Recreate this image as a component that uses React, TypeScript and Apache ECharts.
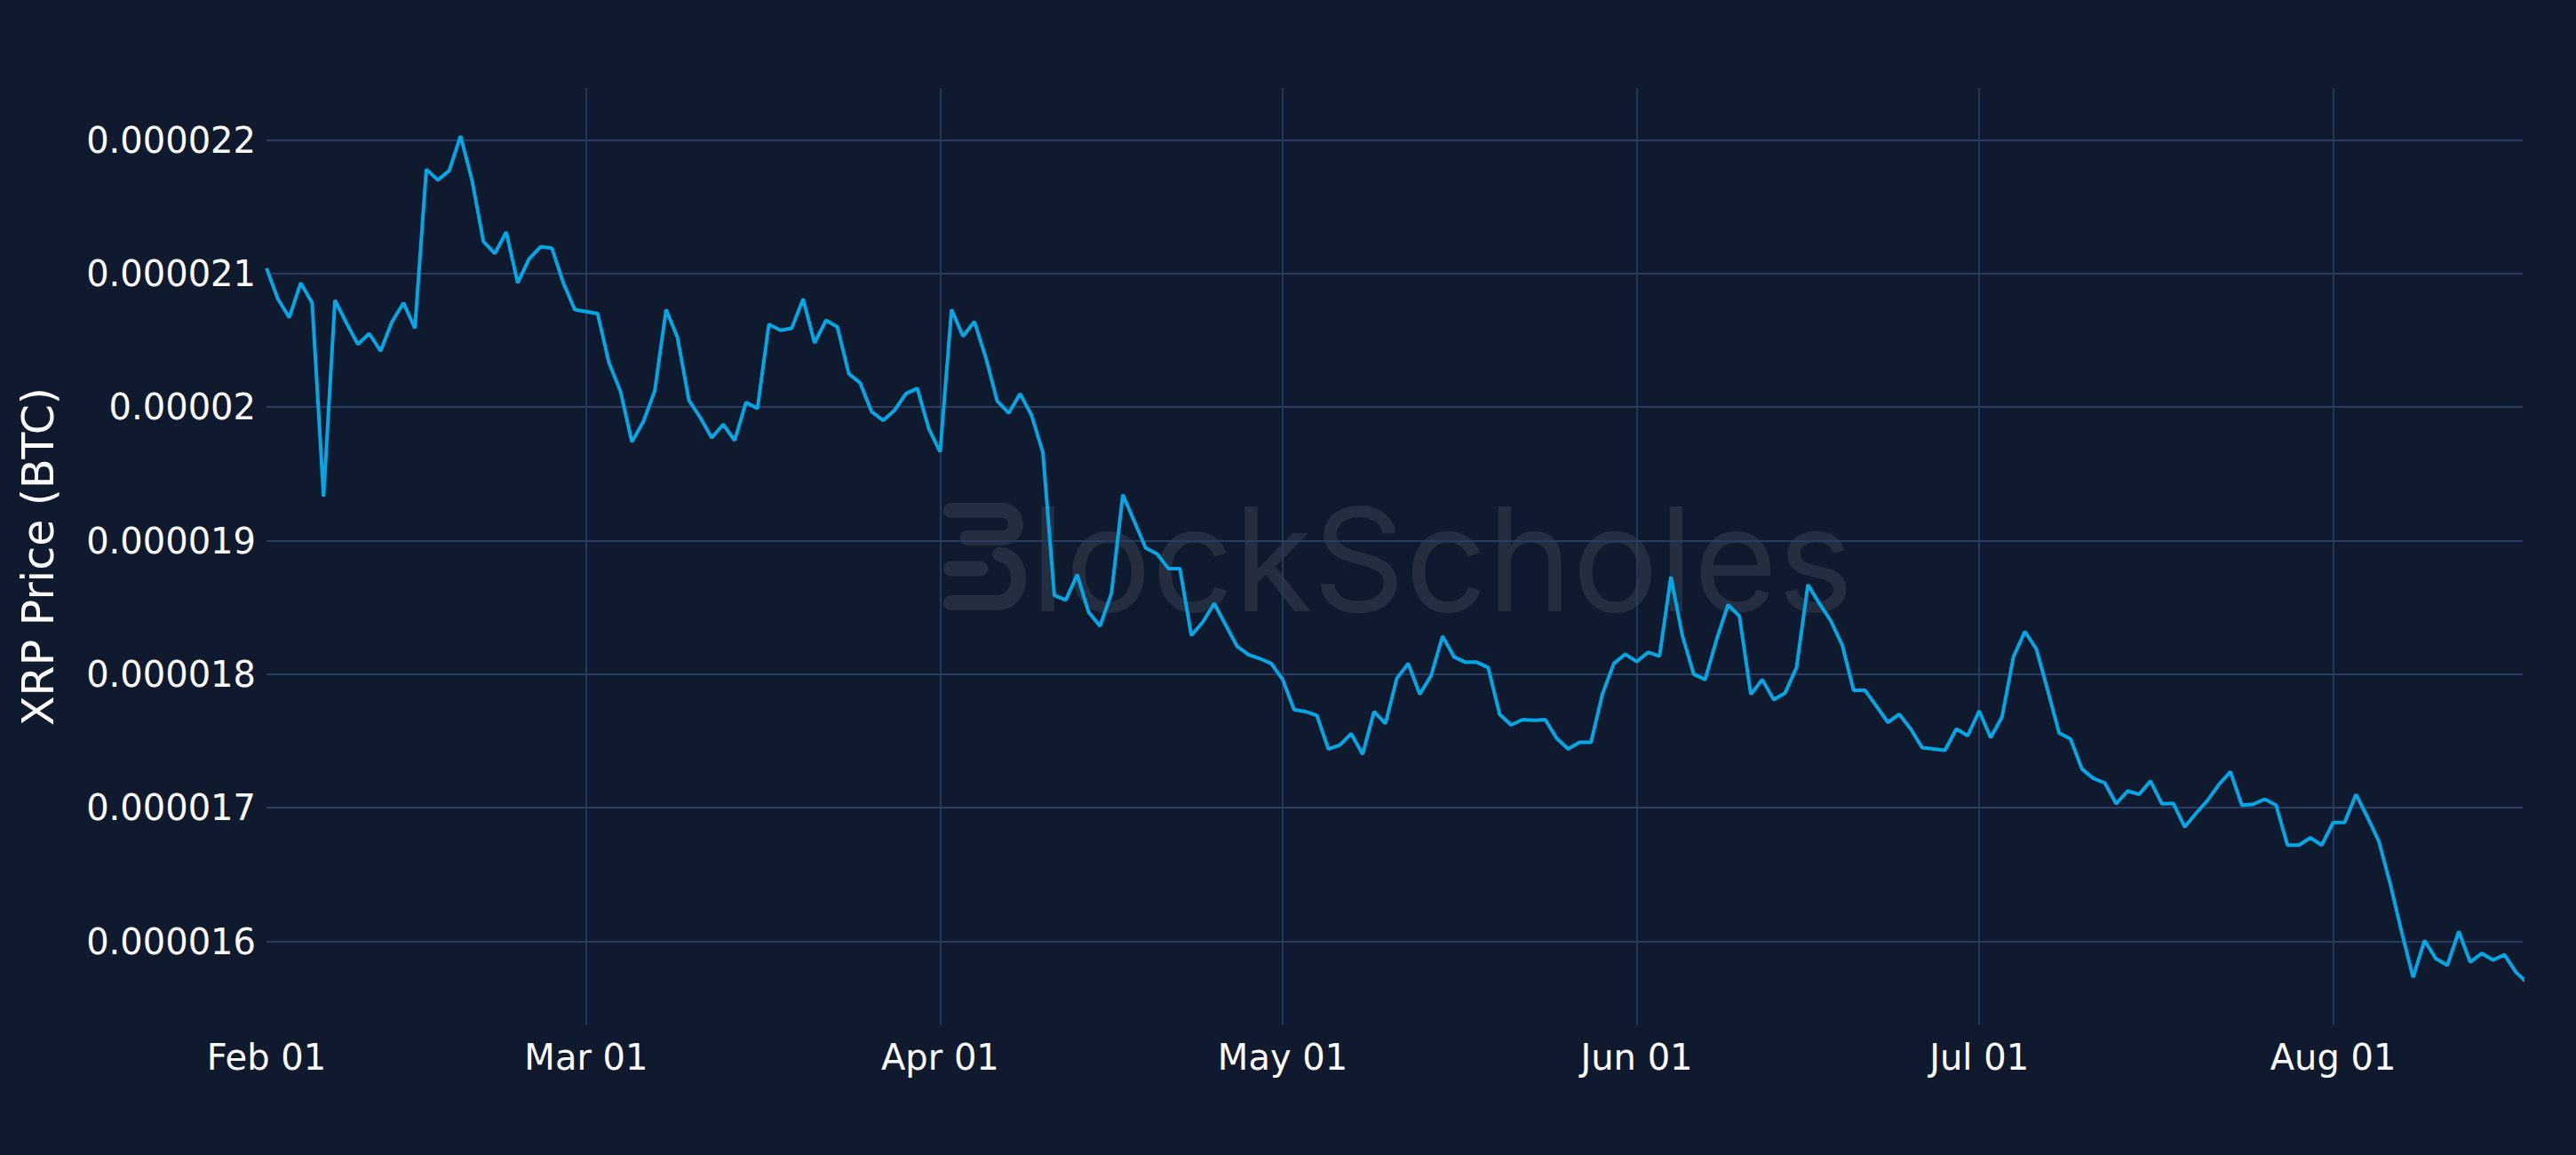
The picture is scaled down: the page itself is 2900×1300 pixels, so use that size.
import React, { useEffect, useRef } from "react";
import * as echarts from "echarts";

// XRP price in BTC, daily, in micro-BTC (1e-6 BTC), starting 2022-02-01
const START_DATE = "2022-02-01";
const UNIT = 1e-6;
const PRICE_E6 = [
  21.04, 20.81, 20.67, 20.93, 20.78, 19.33, 20.8, 20.63, 20.47, 20.55,
  20.42, 20.64, 20.78, 20.59, 21.78, 21.7, 21.77, 22.03, 21.7, 21.24,
  21.15, 21.31, 20.93, 21.11, 21.2, 21.19, 20.93, 20.73, 20.715, 20.7,
  20.33, 20.12, 19.74, 19.89, 20.12, 20.73, 20.52, 20.05, 19.92, 19.77,
  19.87, 19.75, 20.035, 19.99, 20.62, 20.575, 20.59, 20.81, 20.48, 20.65,
  20.6, 20.25, 20.18, 19.965, 19.9, 19.975, 20.1, 20.14, 19.84, 19.665,
  20.73, 20.53, 20.64, 20.37, 20.045, 19.955, 20.1, 19.94, 19.66, 18.59,
  18.555, 18.745, 18.465, 18.36, 18.605, 19.345, 19.145, 18.945, 18.9, 18.79,
  18.79, 18.29, 18.39, 18.53, 18.37, 18.21, 18.147, 18.117, 18.08, 17.96,
  17.735, 17.72, 17.69, 17.44, 17.47, 17.555, 17.4, 17.72, 17.63, 17.97,
  18.08, 17.85, 17.99, 18.285, 18.13, 18.09, 18.09, 18.05, 17.7, 17.62,
  17.66, 17.655, 17.66, 17.52, 17.44, 17.49, 17.49, 17.85, 18.08, 18.15,
  18.095, 18.164, 18.135, 18.73, 18.29, 18.0, 17.96, 18.26, 18.52, 18.435,
  17.85, 17.96, 17.81, 17.86, 18.05, 18.67, 18.53, 18.4, 18.22, 17.88,
  17.88, 17.76, 17.64, 17.7, 17.59, 17.45, 17.44, 17.43, 17.59, 17.54,
  17.725, 17.525, 17.68, 18.13, 18.32, 18.19, 17.88, 17.56, 17.515, 17.29,
  17.22, 17.186, 17.03, 17.126, 17.1, 17.2, 17.03, 17.033, 16.856, 16.96,
  17.055, 17.175, 17.27, 17.02, 17.027, 17.064, 17.02, 16.72, 16.72, 16.775,
  16.72, 16.89, 16.89, 17.1, 16.93, 16.75, 16.43, 16.07, 15.73, 16.007,
  15.87, 15.82, 16.075, 15.845, 15.91, 15.86, 15.9, 15.77, 15.69,
];

const X_TICK_DATES = [
  "2022-02-01",
  "2022-03-01",
  "2022-04-01",
  "2022-05-01",
  "2022-06-01",
  "2022-07-01",
  "2022-08-01",
];
const X_TICK_LABELS = ["Feb 01", "Mar 01", "Apr 01", "May 01", "Jun 01", "Jul 01", "Aug 01"];
const X_MIN = "2022-02-01T00:00:00Z";
const X_MAX = "2022-08-17T14:24:00Z";

const Y_TICKS = [0.000016, 0.000017, 0.000018, 0.000019, 0.00002, 0.000021, 0.000022];
const Y_MIN = 0.000015375;
const Y_MAX = 0.000022386;

const Y_TITLE = "XRP Price (BTC)";
const WATERMARK = "lockScholes";

const BG = "#101a2e";
const GRID = "#2a3c62";
const LINE = "#00a9e6";
const MARK = "#252e41";
const TEXT = "#ffffff";

const LOGO_PATH =
  "M 8.5 8.5 L 66 8.5 A 15.5 15.5 0 0 1 66 39.5 L 27 39.5 " +
  "M 8.5 74 L 42 74 " +
  "M 8.5 112.5 L 60 112.5 C 92 112.5 92 62 64 58";

let logoRegistered = false;

export default function App() {
  const ref = useRef<HTMLDivElement>(null);

  useEffect(() => {
    if (!ref.current) return;
    if (!logoRegistered) {
      echarts.graphic.registerShape("bsLogo", echarts.graphic.extendPath(LOGO_PATH, {}));
      logoRegistered = true;
    }
    const chart = echarts.init(ref.current, undefined, { renderer: "svg" });
    const start = Date.parse(START_DATE + "T00:00:00Z");
    const DAY = 86400000;
    const data = PRICE_E6.map((v, i) => [start + i * DAY, v * UNIT]);
    const xTicks = X_TICK_DATES.map((d) => Date.parse(d + "T00:00:00Z"));

    chart.setOption({
      animation: false,
      backgroundColor: BG,
      grid: { left: 300, right: 60, top: 99.5, bottom: 146.5, containLabel: false },
      graphic: {
        elements: [
          {
            type: "bsLogo",
            x: 1062,
            y: 566,
            z: -10,
            silent: true,
            style: {
              stroke: MARK,
              lineWidth: 17,
              fill: "none",
              lineCap: "round",
              lineJoin: "round",
            },
          },
          {
            type: "text",
            x: 1160,
            y: 688 - 0.3635 * 162,
            z: -10,
            silent: true,
            style: {
              text: WATERMARK,
              fill: MARK,
              font: "400 162px Inter",
              align: "left",
              verticalAlign: "middle",
            },
          },
        ],
      },
      xAxis: {
        type: "value",
        min: Date.parse(X_MIN),
        max: Date.parse(X_MAX),
        axisLine: { show: false },
        axisTick: { show: false, customValues: xTicks.slice(1) },
        axisLabel: {
          customValues: xTicks,
          formatter: (v: number) => {
            const i = xTicks.indexOf(v);
            return i >= 0 ? X_TICK_LABELS[i] : "";
          },
          color: TEXT,
          fontFamily: "DejaVu Sans",
          fontSize: 40,
          margin: 16,
          hideOverlap: false,
        },
        splitLine: { show: true, lineStyle: { color: GRID, width: 1.8 } },
      },
      yAxis: {
        type: "value",
        min: Y_MIN,
        max: Y_MAX,
        name: Y_TITLE,
        nameLocation: "middle",
        nameGap: 232,
        nameTextStyle: { color: TEXT, fontFamily: "DejaVu Sans", fontSize: 49 },
        axisLine: { show: false },
        axisTick: { show: false, customValues: Y_TICKS },
        axisLabel: {
          customValues: Y_TICKS,
          formatter: (v: number) => String(Number(v.toPrecision(6))),
          color: TEXT,
          fontFamily: "DejaVu Sans",
          fontSize: 40,
          margin: 12,
        },
        splitLine: { show: true, lineStyle: { color: GRID, width: 1.8 } },
      },
      series: [
        {
          type: "line",
          data,
          showSymbol: false,
          clip: true,
          z: 3,
          silent: true,
          lineStyle: { color: LINE, width: 4 },
        },
      ],
    });
    return () => chart.dispose();
  }, []);

  return (
    <div
      ref={ref}
      style={{ position: "absolute", left: 0, top: 0, width: 2900, height: 1300 }}
    />
  );
}
